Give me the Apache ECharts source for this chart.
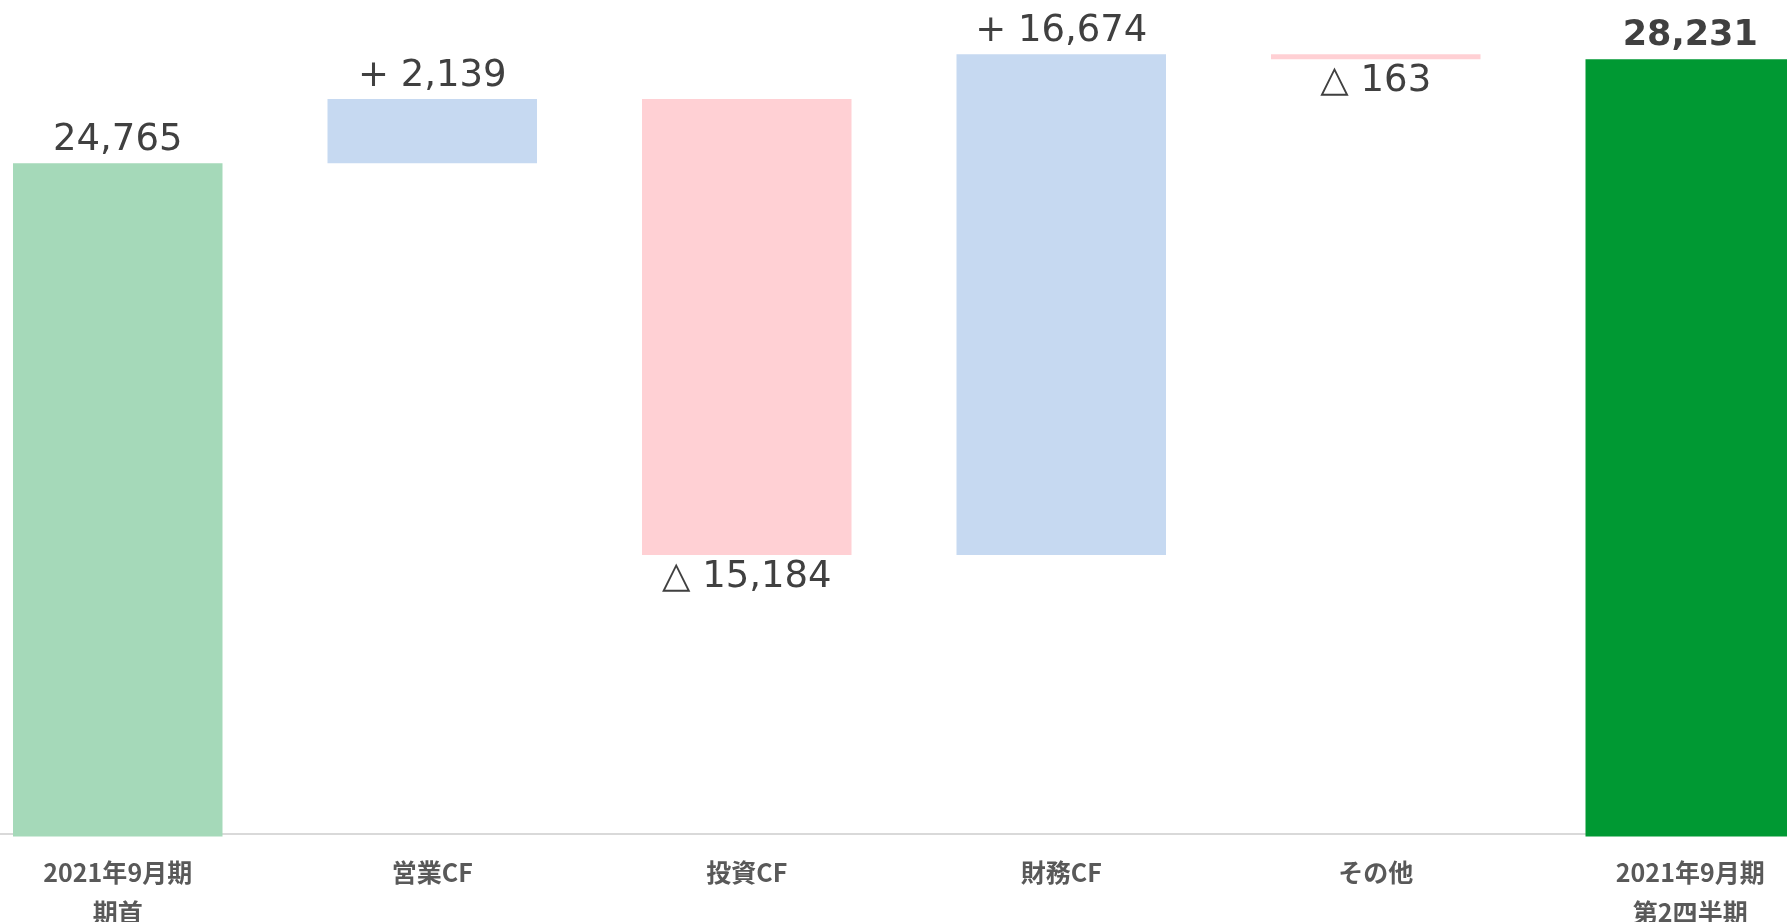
<!DOCTYPE html>
<html>
<head>
<meta charset="utf-8">
<script src="https://cdn.jsdelivr.net/npm/echarts@6/dist/echarts.min.js"></script>
<style>
html, body { margin: 0; padding: 0; background: #fff; }
#chart { width: 1787px; height: 922px; }
</style>
</head>
<body>
<div id="chart"></div>
<script>
// categories and amounts (百万円)
const categories = ['2021年9月期\n期首', '営業CF', '投資CF', '財務CF', 'その他', '2021年9月期\n第2四半期'];
const changes = [24765, 2139, -15184, 16674, -163, 28231];
const kinds = ['total', 'up', 'down', 'up', 'down', 'total'];
const colors = ['#a5d9b9', '#c6d9f1', '#ffd0d4', '#c6d9f1', '#ffd0d4', '#009933'];

// invisible base + visible part for waterfall
let running = 0;
const baseData = [];
const barData = [];
for (let i = 0; i < changes.length; i++) {
  const v = changes[i];
  if (kinds[i] === 'total') {
    baseData.push(0);
    barData.push(v);
    running = v;
  } else if (v >= 0) {
    baseData.push(running);
    barData.push(v);
    running += v;
  } else {
    running += v;
    baseData.push(running);
    barData.push(-v);
  }
}

function fmt(n) {
  return Math.abs(n).toLocaleString('en-US');
}

const chart = echarts.init(document.getElementById('chart'));

const option = {
  backgroundColor: '#ffffff',
  animation: false,
  grid: {
    left: -39.5,
    width: 1887,
    top: 6,
    height: 830.5,
    containLabel: false,
    outerBoundsMode: 'none'
  },
  xAxis: {
    type: 'category',
    data: categories,
    offset: -2.5,
    axisLine: { lineStyle: { color: '#d9d9d9', width: 2 } },
    axisTick: { show: false },
    axisLabel: {
      interval: 0,
      margin: 18,
      color: '#595959',
      fontFamily: 'Noto Sans CJK JP',
      fontWeight: 'bold',
      fontSize: 25,
      lineHeight: 40
    }
  },
  yAxis: {
    type: 'value',
    min: 2350,
    max: 30000,
    show: false,
    splitLine: { show: false }
  },
  series: [
    {
      name: 'base',
      type: 'bar',
      stack: 'wf',
      barWidth: 209.5,
      itemStyle: { color: 'transparent' },
      data: baseData,
      silent: true
    },
    {
      name: 'value',
      type: 'bar',
      stack: 'wf',
      barWidth: 209.5,
      data: barData.map((v, i) => {
        const k = kinds[i];
        const label = {
          show: true,
          fontFamily: 'DejaVu Sans',
          fontSize: 37,
          lineHeight: 37,
          color: '#404040'
        };
        if (k === 'total') {
          label.position = 'top';
          label.distance = 4;
          label.formatter = fmt(changes[i]);
          if (i === changes.length - 1) {
            label.fontWeight = 'bold';
            label.fontSize = 35;
            label.distance = 5;
          }
        } else if (k === 'up') {
          label.position = 'top';
          label.distance = 4;
          label.formatter = '+ ' + fmt(changes[i]);
        } else {
          label.position = 'bottom';
          label.distance = 4;
          label.formatter = '△ ' + fmt(changes[i]);
        }
        return {
          value: v,
          itemStyle: { color: colors[i] },
          label: label
        };
      })
    }
  ]
};

chart.setOption(option);
window.addEventListener('resize', () => chart.resize());
</script>
</body>
</html>
